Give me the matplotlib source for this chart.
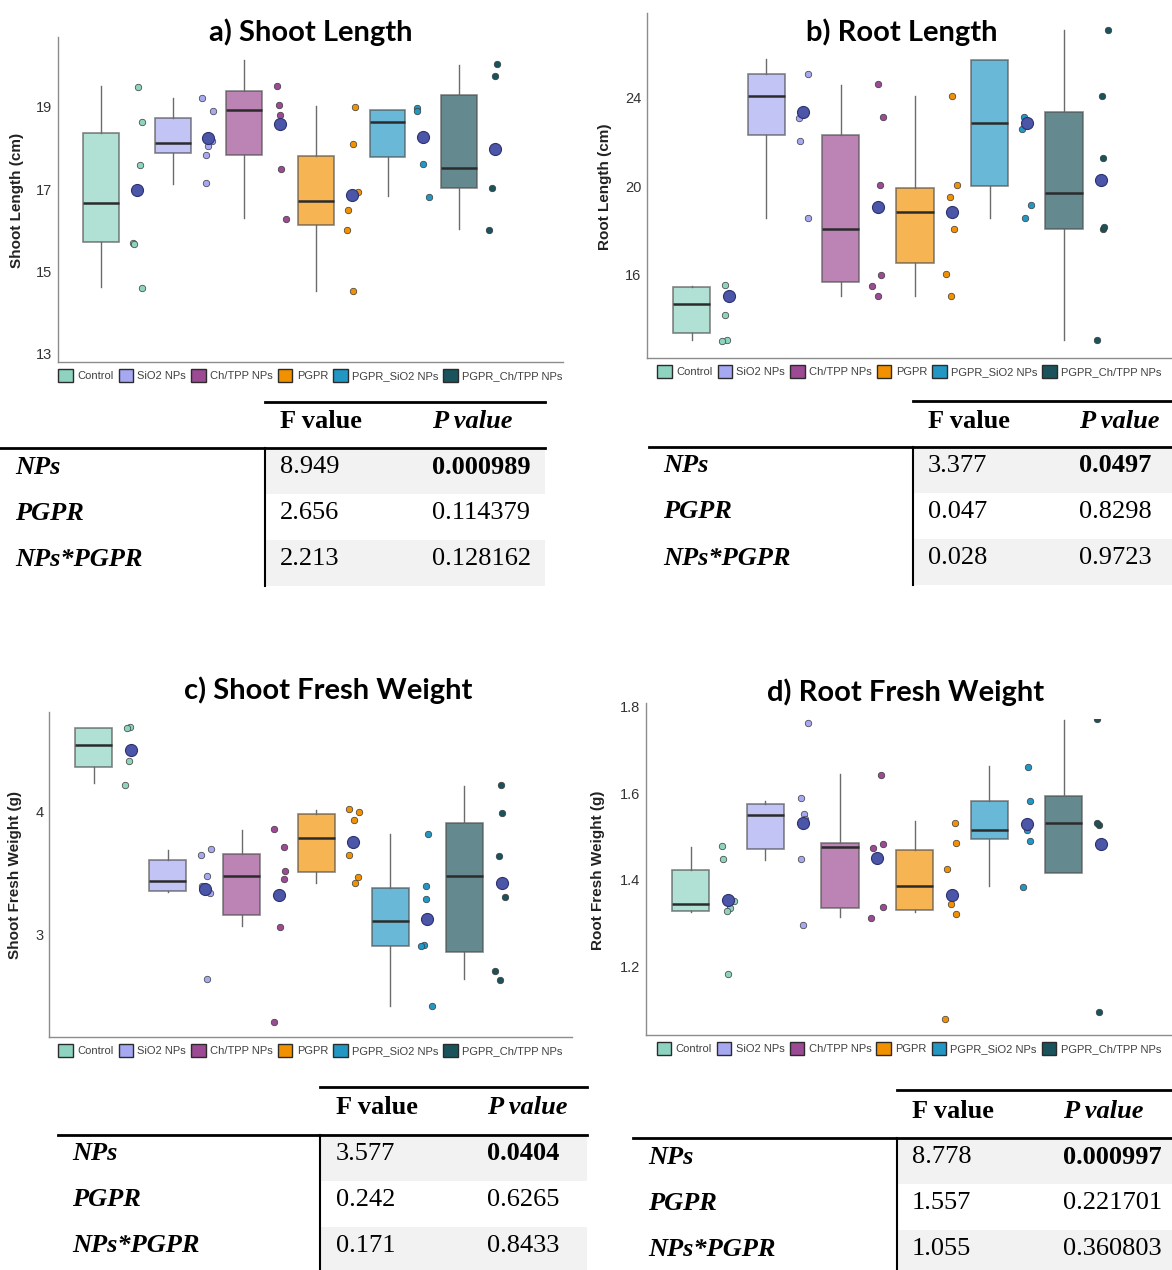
import numpy as np
import matplotlib
matplotlib.use('Agg')
import matplotlib.pyplot as plt
from matplotlib.patches import Patch, Rectangle
from matplotlib.lines import Line2D

# ---- data ----
groups = ['Control', 'SiO2 NPs', 'Ch/TPP NPs', 'PGPR', 'PGPR_SiO2 NPs', 'PGPR_Ch/TPP NPs']
colors = ['#8dd3c0', '#a6a8f2', '#9b4a93', '#f29100', '#2397c4', '#1a535c']

# box stats: whislo, q1, med, q3, whishi
shoot_len_box = [[14.63, 15.71, 16.67, 18.36, 19.51],
                 [17.12, 17.87, 18.12, 18.73, 19.21],
                 [16.31, 17.83, 18.93, 19.39, 20.13],
                 [14.53, 16.13, 16.72, 17.80, 19.02],
                 [16.84, 17.79, 18.63, 18.92, 18.92],
                 [16.03, 17.02, 17.52, 19.28, 20.02]]
shoot_len_pts = [[19.49, 18.64, 17.59, 15.70, 15.68, 14.60],
                 [19.22, 18.90, 18.17, 18.04, 17.84, 17.15],
                 [19.50, 19.04, 18.81, 17.49, 16.28],
                 [19.01, 18.09, 16.94, 16.50, 16.02, 14.52],
                 [18.98, 18.89, 18.30, 17.62, 16.81],
                 [20.04, 19.75, 18.02, 17.03, 16.01]]
shoot_len_mean = [16.98, 18.24, 18.59, 16.85, 18.27, 17.97]

root_len_box = [[13.05, 13.37, 14.69, 15.44, 15.52],
                [18.56, 22.30, 24.08, 25.04, 25.73],
                [15.07, 15.68, 18.07, 22.29, 24.56],
                [15.07, 16.54, 18.82, 19.92, 24.05],
                [18.56, 19.99, 22.83, 25.70, 25.70],
                [13.05, 18.08, 19.71, 23.34, 27.05]]
root_len_pts = [[15.53, 15.11, 14.21, 13.08, 13.01],
                [25.07, 23.07, 22.05, 18.58],
                [24.59, 23.10, 20.05, 16.00, 15.52, 15.05],
                [24.08, 20.05, 19.50, 18.05, 16.03, 15.04],
                [23.10, 22.57, 19.14, 18.58],
                [27.02, 24.05, 21.27, 18.07, 18.14, 13.07]]
root_len_mean = [15.07, 23.34, 19.06, 18.82, 22.83, 20.29]

shoot_fw_box = [[4.23, 4.36, 4.54, 4.676, 4.68],
                [3.35, 3.36, 3.44, 3.61, 3.69],
                [3.07, 3.16, 3.48, 3.66, 3.85],
                [3.42, 3.51, 3.79, 3.98, 4.01],
                [2.42, 2.91, 3.11, 3.38, 3.82],
                [2.64, 2.86, 3.48, 3.91, 4.21]]
shoot_fw_pts = [[4.69, 4.68, 4.41, 4.22],
                [3.70, 3.65, 3.48, 3.40, 3.34, 2.64],
                [3.86, 3.71, 3.52, 3.45, 3.06, 2.29],
                [4.02, 4.00, 3.93, 3.65, 3.47, 3.42],
                [3.82, 3.40, 3.29, 2.92, 2.91, 2.42],
                [4.22, 3.99, 3.64, 3.31, 2.71, 2.63]]
shoot_fw_mean = [4.50, 3.37, 3.32, 3.75, 3.13, 3.42]

root_fw_box = [[1.325, 1.327, 1.345, 1.422, 1.475],
               [1.445, 1.470, 1.550, 1.576, 1.582],
               [1.315, 1.335, 1.475, 1.484, 1.644],
               [1.326, 1.331, 1.385, 1.469, 1.535],
               [1.386, 1.494, 1.515, 1.582, 1.663],
               [1.416, 1.416, 1.530, 1.594, 1.769]]
root_fw_pts = [[1.478, 1.448, 1.352, 1.334, 1.328, 1.182],
               [1.762, 1.588, 1.553, 1.541, 1.447, 1.295],
               [1.641, 1.482, 1.473, 1.337, 1.312],
               [1.531, 1.485, 1.424, 1.345, 1.322, 1.080],
               [1.661, 1.583, 1.516, 1.490, 1.383],
               [1.770, 1.526, 1.532, 1.095]]
root_fw_mean = [1.354, 1.532, 1.450, 1.365, 1.528, 1.482]

row_names = ['NPs', 'PGPR', 'NPs*PGPR']
shoot_len_F = ['8.949', '2.656', '2.213']
shoot_len_P = ['0.000989', '0.114379', '0.128162']
root_len_F = ['3.377', '0.047', '0.028']
root_len_P = ['0.0497', '0.8298', '0.9723']
shoot_fw_F = ['3.577', '0.242', '0.171']
shoot_fw_P = ['0.0404', '0.6265', '0.8433']
root_fw_F = ['8.778', '1.557', '1.055']
root_fw_P = ['0.000997', '0.221701', '0.360803']

# ---- figure ----
W, H = 1172, 1270
fig = plt.figure(figsize=(W / 100, H / 100), dpi=100)
plt.rcParams['font.family'] = ['Liberation Sans', 'DejaVu Sans']


def fx(x):
    return x / W


def fy(y):
    return 1 - y / H


def px_axes(l, t, r, b):
    return fig.add_axes([fx(l), fy(b), (r - l) / W, (b - t) / H])


rng = np.random.default_rng(7)


def box_panel(rect, box, pts, means, ylim, ticks, ticklabels, title, title_xy, ylabel, ylabel_xy, clip_top=None):
    ax = px_axes(*rect)
    stats = [dict(whislo=b[0], q1=b[1], med=b[2], q3=b[3], whishi=b[4]) for b in box]
    bp = ax.bxp(stats, positions=range(6), widths=0.5, patch_artist=True,
                showfliers=False, showcaps=False,
                boxprops=dict(edgecolor='#4d4d4d', linewidth=1.2),
                medianprops=dict(color='#2b2b2b', linewidth=1.8),
                whiskerprops=dict(color='#6b6b6b', linewidth=1.0))
    for patch, c in zip(bp['boxes'], colors):
        patch.set_facecolor(c)
        patch.set_alpha(0.68)
        patch.set_edgecolor('#4d4d4d')
    for i, (vals, c) in enumerate(zip(pts, colors)):
        xs = i + 0.5 + rng.uniform(-0.09, 0.09, len(vals))
        sc = ax.scatter(xs, vals, s=22, color=c, edgecolor='#3a3a3a', linewidth=0.5, zorder=3)
        ax.scatter([i + 0.5], [means[i]], s=75, color='#4b56a8', edgecolor='#2c3170',
                   linewidth=0.8, zorder=4)
        if clip_top is not None:
            sc.set_clip_path(Rectangle((-1, ylim[0]), 10, clip_top - ylim[0], transform=ax.transData))
    if clip_top is not None:
        for wl in bp['whiskers']:
            wl.set_clip_path(Rectangle((-1, ylim[0]), 10, clip_top - ylim[0], transform=ax.transData))
    ax.set_xlim(-0.6, 6.45)
    ax.set_ylim(*ylim)
    ax.set_xticks([])
    ax.set_yticks(ticks)
    ax.set_yticklabels(ticklabels)
    ax.tick_params(axis='y', length=0, pad=4, labelsize=10.5, labelcolor='#333333')
    for s in ['top', 'right']:
        ax.spines[s].set_visible(False)
    for s in ['left', 'bottom']:
        ax.spines[s].set_color('#8c8c8c')
        ax.spines[s].set_linewidth(1.0)
    ax.set_facecolor('none')
    handles = [Patch(facecolor=c, edgecolor='#2b2b2b', linewidth=1.0) for c in colors]
    ax.legend(handles, groups, loc='upper center', bbox_to_anchor=(0.5, 0.0), ncol=6,
              frameon=False, fontsize=8, handlelength=1.3, handleheight=1.5,
              columnspacing=0.45, handletextpad=0.4, labelcolor='#404040',
              borderaxespad=0.2)
    fig.text(fx(title_xy[0]), fy(title_xy[1]), title, ha='center', va='center',
             fontsize=21, fontweight='bold', family=['Lato', 'DejaVu Sans'])
    fig.text(fx(ylabel_xy[0]), fy(ylabel_xy[1]), ylabel, ha='center', va='center',
             rotation=90, fontsize=11, fontweight='bold', color='#222222')
    return ax


def stat_table(x_left, x_vert, x_right, y_top, y_head, row_h, label_x, f_x, p_x, F, P):
    serif = ['Liberation Serif', 'DejaVu Serif']
    fs = 19
    fig.add_artist(Line2D([fx(x_vert), fx(x_right)], [fy(y_top), fy(y_top)], color='black', lw=2))
    fig.add_artist(Line2D([fx(x_left), fx(x_right)], [fy(y_head), fy(y_head)], color='black', lw=2))
    for i in (0, 2):
        y0 = y_head + i * row_h
        fig.add_artist(Rectangle((fx(x_vert), fy(y0 + row_h)), (x_right - x_vert) / W, row_h / H,
                                 facecolor='#f2f2f2', edgecolor='none', zorder=0))
    fig.add_artist(Line2D([fx(x_vert), fx(x_vert)], [fy(y_head), fy(y_head + 3 * row_h)],
                          color='black', lw=1.5))
    yh = (y_top + y_head) / 2 - 3
    fig.text(fx(f_x), fy(yh), 'F value', ha='left', va='center', fontsize=fs,
             fontweight='bold', family=serif)
    fig.text(fx(p_x), fy(yh), 'P value', ha='left', va='center', fontsize=fs,
             fontweight='bold', style='italic', family=serif)
    for i in range(3):
        yc = y_head + i * row_h + 19
        fig.text(fx(label_x), fy(yc), row_names[i], ha='left', va='center', fontsize=fs,
                 fontweight='bold', style='italic', family=serif)
        fig.text(fx(f_x), fy(yc), F[i], ha='left', va='center', fontsize=fs, family=serif)
        fig.text(fx(p_x), fy(yc), P[i], ha='left', va='center', fontsize=fs, family=serif,
                 fontweight='bold' if i == 0 else 'normal')


box_panel((58, 37, 563, 362), shoot_len_box, shoot_len_pts, shoot_len_mean,
          (12.8, 20.7), [13, 15, 17, 19], ['13', '15', '17', '19'],
          'a) Shoot Length', (311, 32), 'Shoot Length (cm)', (17, 200))
box_panel((647, 13, 1172, 358), root_len_box, root_len_pts, root_len_mean,
          (12.26, 27.8), [16, 20, 24], ['16', '20', '24'],
          'b) Root Length', (902, 32), 'Root Length (cm)', (605, 187))
box_panel((49, 712, 572, 1037), shoot_fw_box, shoot_fw_pts, shoot_fw_mean,
          (2.17, 4.81), [3, 4], ['3', '4'],
          'c) Shoot Fresh Weight', (328, 690), 'Shoot Fresh Weight (g)', (15, 875))
box_panel((646, 703, 1172, 1035), root_fw_box, root_fw_pts, root_fw_mean,
          (1.042, 1.808), [1.2, 1.4, 1.6, 1.8], ['1.2', '1.4', '1.6', '1.8'],
          'd) Root Fresh Weight', (906, 692), 'Root Fresh Weight (g)', (598, 870), clip_top=1.77)

stat_table(0, 265, 545, 402, 448, 46, 15, 280, 432, shoot_len_F, shoot_len_P)
stat_table(649, 913, 1172, 401, 447, 46, 663, 928, 1079, root_len_F, root_len_P)
stat_table(58, 320, 587, 1087, 1135, 46, 72, 336, 487, shoot_fw_F, shoot_fw_P)
stat_table(633, 897, 1172, 1090, 1138, 46, 648, 912, 1063, root_fw_F, root_fw_P)

fig.savefig('out.png', dpi=100)
